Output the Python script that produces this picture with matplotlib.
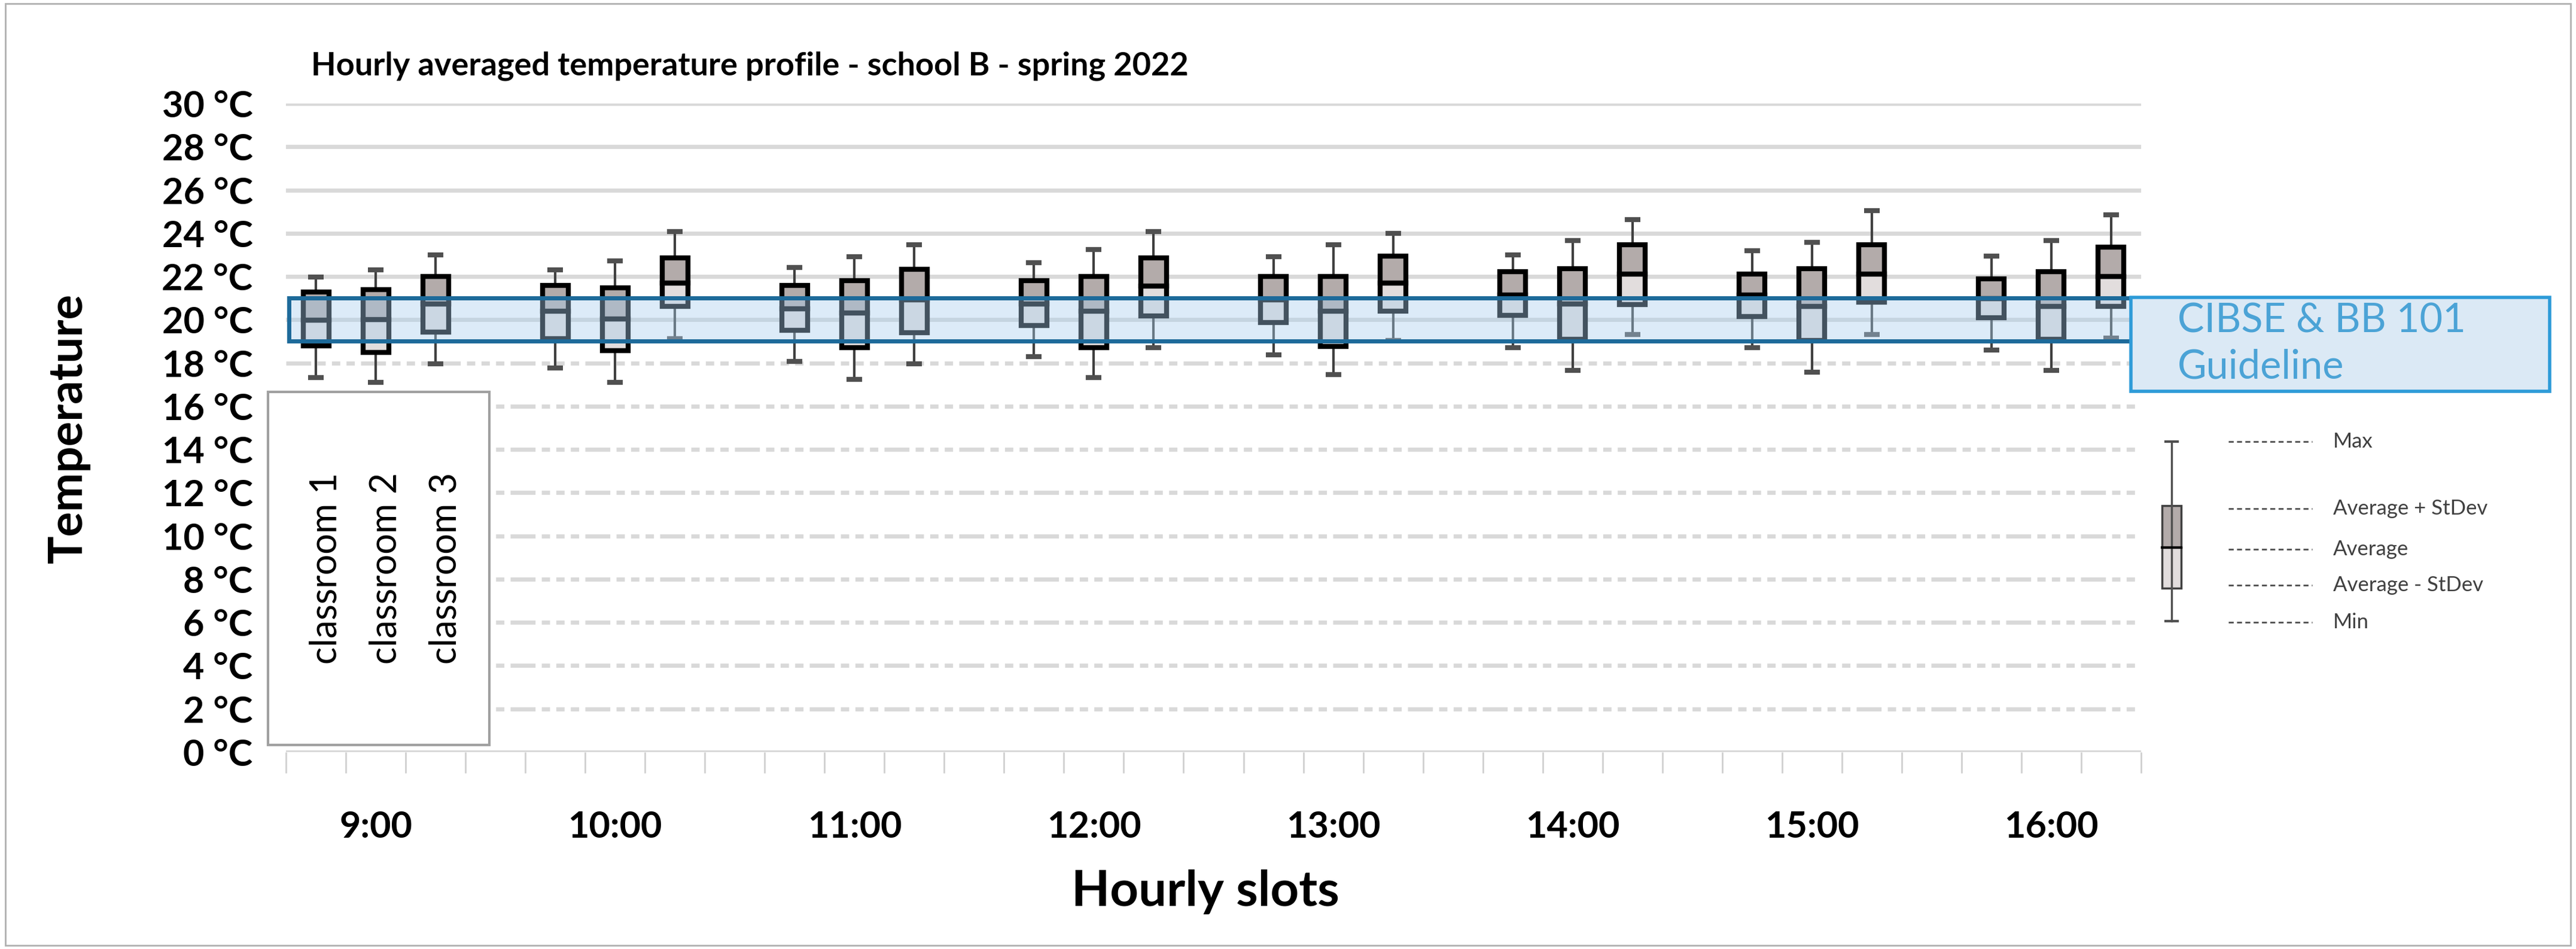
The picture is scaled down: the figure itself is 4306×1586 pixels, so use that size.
import matplotlib
matplotlib.use("Agg")
import matplotlib.pyplot as plt
from matplotlib.patches import Rectangle
import numpy as np

plt.rcParams['font.family'] = ['Lato', 'DejaVu Sans']

hours = ["9:00", "10:00", "11:00", "12:00", "13:00", "14:00", "15:00", "16:00"]
classrooms = ["classroom 1", "classroom 2", "classroom 3"]
# per hour, per classroom
t_max = [[21.98, 22.30, 23.00], [22.30, 22.72, 24.08], [22.42, 22.92, 23.46], [22.63, 23.24, 24.08],
         [22.92, 23.48, 23.99], [23.00, 23.66, 24.64], [23.18, 23.57, 25.04], [22.93, 23.66, 24.84]]
t_upper = [[21.29, 21.38, 22.00], [21.60, 21.47, 22.86], [21.60, 21.80, 22.33], [21.80, 22.00, 22.86],
           [22.00, 22.00, 22.95], [22.21, 22.35, 23.46], [22.12, 22.35, 23.46], [21.90, 22.21, 23.36]]
t_mean = [[19.97, 20.00, 20.74], [20.41, 20.05, 21.69], [20.50, 20.32, 20.92], [20.74, 20.41, 21.57],
          [20.92, 20.40, 21.69], [21.15, 20.74, 22.12], [21.15, 20.62, 22.12], [20.97, 20.62, 22.00]]
t_lower = [[18.80, 18.48, 19.42], [19.12, 18.57, 20.62], [19.50, 18.70, 19.40], [19.72, 18.70, 20.18],
           [19.86, 18.77, 20.40], [20.20, 19.10, 20.69], [20.16, 19.03, 20.80], [20.09, 19.10, 20.62]]
t_min = [[17.33, 17.10, 17.97], [17.76, 17.10, 19.12], [18.06, 17.24, 17.97], [18.30, 17.33, 18.70],
         [18.39, 17.47, 19.03], [18.70, 17.65, 19.33], [18.70, 17.56, 19.33], [18.59, 17.65, 19.14]]
guide_low, guide_high = 19, 21
yticks = list(range(0, 31, 2))

W, H = 4306, 1586
fig = plt.figure(figsize=(W/100, H/100), dpi=100)
fig.patches.append(Rectangle((0.002, 0.004), 0.996, 0.992, transform=fig.transFigure,
                             fill=False, ec='#b0b0b0', lw=2))
ax = fig.add_axes([478/W, 1-1257/H, (3579-478)/W, (1257-173)/H])
nslots = 31
ax.set_xlim(0, nslots)
ax.set_ylim(0, 30)

for v in yticks:
    if v >= 20 or v == 0:
        ax.axhline(v, color='#d9d9d9', lw=5, zorder=0)
    else:
        ax.axhline(v, color='#d9d9d9', lw=5, ls=(0, (6, 1.5, 2, 1.5, 2, 1.5, 2, 1.5)), zorder=0)

bw = 0.43
upc, loc = '#b3abaa', '#e2dddd'
for g in range(len(hours)):
    for k in range(3):
        x = 4*g + k + 0.5
        ax.vlines(x, t_min[g][k], t_max[g][k], color='#404040', lw=3, zorder=2)
        ax.hlines([t_min[g][k], t_max[g][k]], x-0.13, x+0.13, color='#505050', lw=6, zorder=2)
        ax.bar(x, t_mean[g][k]-t_lower[g][k], bottom=t_lower[g][k], width=bw, color=loc, ec='black', lw=6, zorder=3)
        ax.bar(x, t_upper[g][k]-t_mean[g][k], bottom=t_mean[g][k], width=bw, color=upc, ec='black', lw=6, zorder=3)

ax.add_patch(Rectangle((0.05, guide_low), 30.9, guide_high-guide_low, fc='#a9cfee', alpha=0.4, ec='none', zorder=4))
ax.add_patch(Rectangle((0.05, guide_low), 30.9, guide_high-guide_low, fill=False, ec='#1d6a9a', lw=5, zorder=5))

ax.set_xticks(np.arange(0, nslots+1), minor=True)
ax.set_xticks([4*g+1.5 for g in range(len(hours))])
ax.set_xticklabels(hours, fontsize=44, fontweight='bold')
ax.tick_params(axis='x', which='major', length=0, pad=70)
ax.tick_params(axis='x', which='minor', length=25, color='#d0d0d0', width=2)
ax.set_yticks(yticks)
ax.set_yticklabels([f"{v} °C" for v in yticks], fontsize=44, fontweight='bold')
ax.tick_params(axis='y', length=0, pad=40)
for s in ax.spines.values():
    s.set_visible(False)

fig.text(115/W, 1-715/H, "Temperature", rotation=90, fontsize=56, fontweight='bold', ha='center', va='center')
fig.text(2015/W, 1-1490/H, "Hourly slots", fontsize=60, fontweight='bold', ha='center', va='center')
fig.text(520/W, 1-110/H, "Hourly averaged temperature profile - school B - spring 2022", fontsize=39,
         fontweight='bold', ha='left', va='center')

# classroom legend box
fig.patches.append(Rectangle((448/W, 1-1245/H), 370/W, (1245-655)/H, transform=fig.transFigure,
                             fc='white', ec='#a0a0a0', lw=3, zorder=10))
for i, c in enumerate(classrooms):
    fig.text((545+100*i)/W, 1-950/H, c, rotation=90, fontsize=44, ha='center', va='center', zorder=11)

# guideline box
fig.patches.append(Rectangle((3562/W, 1-654/H), 700/W, 157/H, transform=fig.transFigure,
                             fc='#dbe9f5', ec='#2e9bd8', lw=4, zorder=10))
fig.text(3640/W, 1-575/H, "CIBSE & BB 101\nGuideline", fontsize=48, color='#4ba3d6', ha='left',
         va='center', linespacing=1.3, zorder=11)

# boxplot key
lx = 3630/W
ly = lambda y: 1-y/H
fig.add_artist(plt.Line2D([lx, lx], [ly(738), ly(1038)], color='#505050', lw=2.5))
fig.add_artist(plt.Line2D([lx-10/W, lx+10/W], [ly(738)]*2, color='#505050', lw=3))
fig.add_artist(plt.Line2D([lx-10/W, lx+10/W], [ly(1038)]*2, color='#505050', lw=3))
fig.patches.append(Rectangle((lx-16/W, ly(915)), 32/W, 70/H, transform=fig.transFigure, fc='#b3abaa', ec='#404040', lw=2.5))
fig.patches.append(Rectangle((lx-16/W, ly(915)), 32/W, -68/H, transform=fig.transFigure, fc='#e2dddd', ec='#404040', lw=2.5))
fig.add_artist(plt.Line2D([lx-16/W, lx+16/W], [ly(915)]*2, color='black', lw=3))
for yy, lab in [(738, "Max"), (850, "Average + StDev"), (918, "Average"), (978, "Average - StDev"), (1040, "Min")]:
    fig.add_artist(plt.Line2D([3725/W, 3865/W], [ly(yy)]*2, color='#505050', lw=2, ls=(0, (3, 2))))
    fig.text(3900/W, ly(yy), lab, fontsize=25, ha='left', va='center', color='#404040')

fig.savefig("out.png", dpi=100)
